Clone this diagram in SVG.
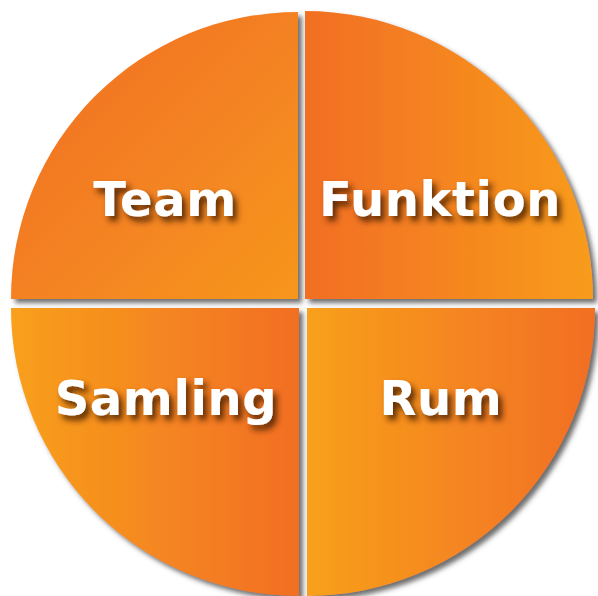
<svg xmlns="http://www.w3.org/2000/svg" width="598" height="596" viewBox="0 0 598 596">
<defs>
<linearGradient id="gTL" x1="0" y1="0" x2="1" y2="1">
<stop offset="0" stop-color="#F06C24"/><stop offset="1" stop-color="#F7961E"/>
</linearGradient>
<linearGradient id="gTR" x1="0" y1="0" x2="1" y2="0">
<stop offset="0" stop-color="#F26E23"/><stop offset="1" stop-color="#F89C1C"/>
</linearGradient>
<linearGradient id="gB" x1="0" y1="0" x2="1" y2="0">
<stop offset="0" stop-color="#F8A01C"/><stop offset="1" stop-color="#F26E24"/>
</linearGradient>
<filter id="sh" x="-10%" y="-10%" width="130%" height="130%">
<feGaussianBlur in="SourceAlpha" stdDeviation="2.5"/>
<feOffset dx="4" dy="4" result="b"/>
<feFlood flood-color="#4a4a4a" flood-opacity="0.8"/>
<feComposite in2="b" operator="in"/>
<feMerge><feMergeNode/><feMergeNode in="SourceGraphic"/></feMerge>
</filter>
<filter id="tsh" x="-20%" y="-30%" width="140%" height="170%">
<feGaussianBlur in="SourceAlpha" stdDeviation="3"/>
<feOffset dx="4" dy="5" result="b"/>
<feFlood flood-color="#4a2000" flood-opacity="0.9"/>
<feComposite in2="b" operator="in"/>
<feMerge><feMergeNode/><feMergeNode in="SourceGraphic"/></feMerge>
</filter>
</defs>
<style>
.lbl{font-family:"DejaVu Sans","Verdana",sans-serif;font-weight:bold;font-size:48px;letter-spacing:0.6px;fill:#fff;text-anchor:middle;filter:url(#tsh)}
.q{filter:url(#sh)}
</style>
<rect width="598" height="596" fill="#fff"/>
<g id="team">
<path class="q" d="M298,299 L11,299 A287,287 0 0 1 298,12 Z" fill="url(#gTL)"/>
<text class="lbl" x="165" y="216">Team</text>
</g>
<g id="funktion">
<path class="q" d="M305,299 L305,11 A288,288 0 0 1 593,299 Z" fill="url(#gTR)"/>
<text class="lbl" x="440" y="216">Funktion</text>
</g>
<g id="samling">
<path class="q" d="M299,308 L299,596 A288,288 0 0 1 11,308 Z" fill="url(#gB)"/>
<text class="lbl" x="166" y="415">Samling</text>
</g>
<g id="rum">
<path class="q" d="M307,308 L595,308 A288,288 0 0 1 307,596 Z" fill="url(#gB)"/>
<text class="lbl" x="441" y="415">Rum</text>
</g>
<g id="connectors"/>
</svg>
